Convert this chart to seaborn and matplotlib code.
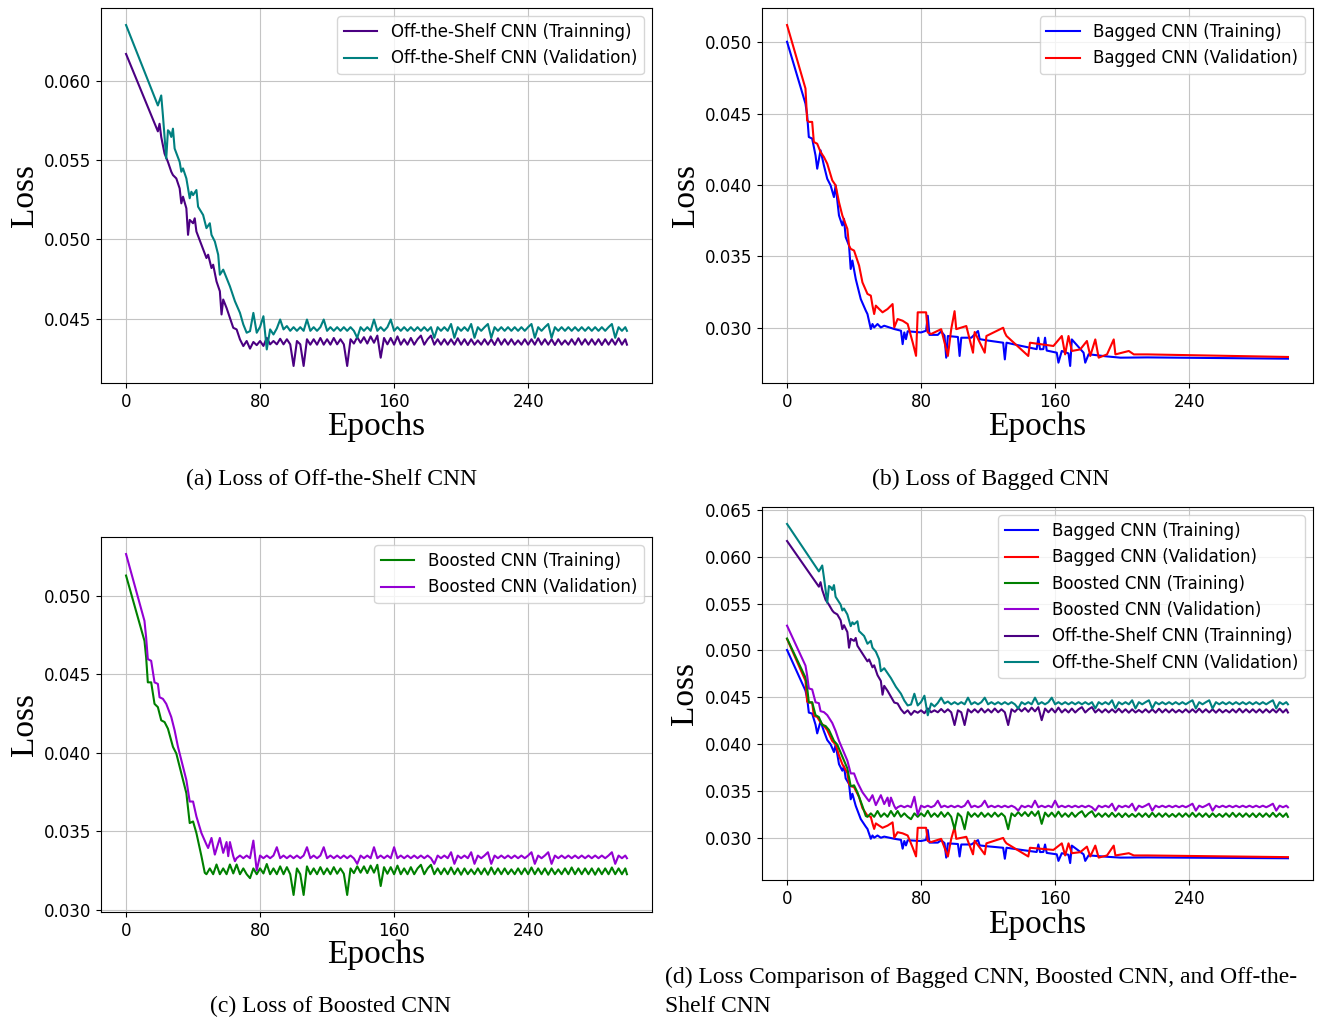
import matplotlib
matplotlib.use("Agg")
import matplotlib.pyplot as plt
import pandas as pd
import seaborn as sns
from matplotlib.ticker import MultipleLocator, FormatStrFormatter

# ---------------- data ----------------
# Off-the-Shelf CNN, training
off_train_epochs = [0, 19, 20, 21, 23, 25, 27, 28, 30, 32, 33, 34, 36, 37, 38, 40, 41, 42,
                    45, 48, 49, 51, 52, 54, 56, 57, 58, 60, 62, 64, 66, 68, 70] \
    + list(range(72, 299, 2)) + [299]
off_train_loss = [
    0.06167, 0.05680, 0.05728, 0.05645, 0.05540, 0.05488, 0.05426, 0.05405, 0.05384, 0.05321,
    0.05227, 0.05269, 0.05196, 0.05029, 0.05123, 0.05102, 0.05133, 0.05050, 0.04966, 0.04883,
    0.04904, 0.04820, 0.04841, 0.04736, 0.04674, 0.04528, 0.04622, 0.04569, 0.04507, 0.04444,
    0.04434, 0.04371, 0.04329,
    # plateau, every 2 epochs from 72
    0.04361, 0.04313, 0.04355, 0.04335, 0.04361, 0.04330, 0.04381, 0.04340, 0.04361, 0.04340,
    0.04375, 0.04340, 0.04372, 0.04340, 0.04204, 0.04361, 0.04340, 0.04204, 0.04372, 0.04338,
    0.04372, 0.04338, 0.04380, 0.04338, 0.04372, 0.04338, 0.04380, 0.04340, 0.04372, 0.04340,
    0.04204, 0.04372, 0.04345, 0.04385, 0.04350, 0.04385, 0.04345, 0.04390, 0.04350, 0.04395,
    0.04256, 0.04380, 0.04340, 0.04380, 0.04338, 0.04390, 0.04338, 0.04372, 0.04338, 0.04380,
    0.04338, 0.04372, 0.04395, 0.04338, 0.04372, 0.04395, 0.04338, 0.04372, 0.04338, 0.04372,
    0.04338, 0.04372, 0.04338, 0.04378, 0.04338, 0.04372, 0.04336, 0.04372, 0.04338, 0.04365,
    0.04338, 0.04372, 0.04338, 0.04372, 0.04336, 0.04378, 0.04338, 0.04372, 0.04338, 0.04372,
    0.04338, 0.04365, 0.04338, 0.04372, 0.04338, 0.04372, 0.04338, 0.04378, 0.04338, 0.04372,
    0.04338, 0.04372, 0.04336, 0.04372, 0.04338, 0.04365, 0.04338, 0.04372, 0.04338, 0.04378,
    0.04338, 0.04372, 0.04338, 0.04372, 0.04338, 0.04372, 0.04336, 0.04372, 0.04338, 0.04372,
    0.04338, 0.04378, 0.04338, 0.04372,
    0.04338,
]

# Off-the-Shelf CNN, validation
off_val_epochs = [0, 19, 21, 22, 24, 25, 26, 27, 28, 29, 32, 33, 34, 36, 38, 39, 40, 42, 43,
                  46, 48, 50, 51, 53, 55, 56, 58, 60, 62, 65, 68, 70, 72, 74, 76, 78] \
    + list(range(80, 299, 2)) + [299]
off_val_loss = [
    0.06349, 0.05843, 0.05906, 0.05781, 0.05509, 0.05687, 0.05676, 0.05645, 0.05697, 0.05572,
    0.05488, 0.05426, 0.05447, 0.05384, 0.05259, 0.05300, 0.05279, 0.05311, 0.05206, 0.05154,
    0.05071, 0.05102, 0.05029, 0.04987, 0.04904, 0.04778, 0.04810, 0.04757, 0.04705, 0.04611,
    0.04538, 0.04465, 0.04413, 0.04423, 0.04538, 0.04413,
    # plateau, every 2 epochs from 80
    0.04450, 0.04517, 0.04308, 0.04434, 0.04402, 0.04440, 0.04496, 0.04434, 0.04455, 0.04425,
    0.04448, 0.04425, 0.04448, 0.04425, 0.04496, 0.04425, 0.04448, 0.04425, 0.04448, 0.04496,
    0.04425, 0.04448, 0.04425, 0.04448, 0.04425, 0.04448, 0.04425, 0.04448, 0.04425, 0.04381,
    0.04448, 0.04425, 0.04448, 0.04425, 0.04496, 0.04425, 0.04448, 0.04425, 0.04448, 0.04496,
    0.04425, 0.04448, 0.04425, 0.04448, 0.04425, 0.04448, 0.04425, 0.04448, 0.04425, 0.04448,
    0.04425, 0.04448, 0.04381, 0.04448, 0.04425, 0.04448, 0.04425, 0.04468, 0.04381, 0.04448,
    0.04425, 0.04448, 0.04425, 0.04468, 0.04381, 0.04448, 0.04425, 0.04448, 0.04468, 0.04381,
    0.04448, 0.04425, 0.04448, 0.04425, 0.04448, 0.04425, 0.04448, 0.04425, 0.04448, 0.04425,
    0.04448, 0.04468, 0.04381, 0.04448, 0.04425, 0.04448, 0.04468, 0.04381, 0.04448, 0.04425,
    0.04448, 0.04425, 0.04448, 0.04425, 0.04448, 0.04425, 0.04448, 0.04425, 0.04448, 0.04425,
    0.04448, 0.04425, 0.04448, 0.04425, 0.04448, 0.04468, 0.04381, 0.04448, 0.04425, 0.04448,
    0.04425,
]

# Bagged CNN, training
bag_train_epochs = [0, 11, 12, 13, 15, 17, 18, 20, 22, 24, 26, 28, 29, 31, 33, 34, 35, 37, 38,
                    39, 41, 44, 47, 48, 50, 51, 52, 54, 56, 58, 64, 68, 69, 70, 71, 72, 80, 83,
                    84, 85, 90, 92, 94, 95, 96, 102, 103, 104, 110, 114, 115, 120, 129, 130, 131,
                    140, 149, 150, 151, 153, 154, 155, 161, 162, 164, 168, 169, 170, 177, 178,
                    180, 190, 199, 215, 299]
bag_train_loss = [
    0.05005, 0.04571, 0.04490, 0.04337, 0.04326, 0.04208, 0.04115, 0.04244, 0.04138, 0.04044,
    0.03998, 0.03916, 0.03998, 0.03787, 0.03717, 0.03763, 0.03635, 0.03576, 0.03412, 0.03471,
    0.03342, 0.03201, 0.03120, 0.03096, 0.02991, 0.03026, 0.03002, 0.03026, 0.03002, 0.03014,
    0.02991, 0.02979, 0.02885, 0.02967, 0.02920, 0.02975, 0.02967, 0.02979, 0.03084, 0.02950,
    0.02950, 0.02975, 0.02945, 0.02790, 0.02942, 0.02935, 0.02802, 0.02930, 0.02930, 0.02977,
    0.02920, 0.02910, 0.02895, 0.02778, 0.02895, 0.02872, 0.02850, 0.02930, 0.02849, 0.02850,
    0.02930, 0.02840, 0.02825, 0.02755, 0.02837, 0.02820, 0.02732, 0.02918, 0.02825, 0.02755,
    0.02814, 0.02800, 0.02790, 0.02792, 0.02783,
]

# Bagged CNN, validation
bag_val_epochs = [0, 11, 12, 13, 15, 16, 18, 20, 22, 24, 27, 29, 31, 33, 36, 37, 38, 40, 43,
                  45, 48, 50, 51, 52, 53, 55, 57, 60, 63, 64, 66, 69, 72, 75, 77, 78, 83, 84,
                  86, 92, 96, 98, 100, 101, 107, 111, 112, 118, 119, 129, 130, 131, 144, 145,
                  159, 164, 166, 168, 170, 175, 179, 181, 184, 186, 191, 195, 196, 204, 207,
                  215, 299]
bag_val_loss = [
    0.05122, 0.04677, 0.04454, 0.04443, 0.04443, 0.04302, 0.04290, 0.04232, 0.04197, 0.04150,
    0.04033, 0.03998, 0.03880, 0.03787, 0.03693, 0.03576, 0.03553, 0.03541, 0.03436, 0.03318,
    0.03237, 0.03225, 0.03155, 0.03096, 0.03155, 0.03131, 0.03108, 0.03131, 0.03166, 0.03002,
    0.03061, 0.03049, 0.03026, 0.02897, 0.02803, 0.03108, 0.03108, 0.02967, 0.02956, 0.02990,
    0.02802, 0.02990, 0.03116, 0.02990, 0.03012, 0.02825, 0.02970, 0.02825, 0.02942, 0.03000,
    0.02965, 0.02942, 0.02802, 0.02895, 0.02872, 0.02942, 0.02813, 0.02942, 0.02837, 0.02848,
    0.02907, 0.02802, 0.02918, 0.02790, 0.02813, 0.02918, 0.02813, 0.02837, 0.02813, 0.02813,
    0.02795,
]

# Boosted CNN, training
boost_train_epochs = [0, 11, 12, 13, 15, 17, 19, 21, 23, 25, 28, 30, 33, 36, 38, 40, 42, 45, 47] \
    + list(range(48, 299, 2)) + [299]
boost_train_loss = [
    0.05127, 0.04711, 0.04605, 0.04447, 0.04447, 0.04310, 0.04289, 0.04205, 0.04194, 0.04152,
    0.04036, 0.03994, 0.03867, 0.03741, 0.03551, 0.03561, 0.03487, 0.03340, 0.03234,
    # plateau, every 2 epochs from 48
    0.03225, 0.03262, 0.03225, 0.03287, 0.03225, 0.03262, 0.03225, 0.03287, 0.03230, 0.03287,
    0.03225, 0.03262, 0.03225, 0.03200, 0.03262, 0.03225, 0.03262, 0.03230, 0.03290, 0.03225,
    0.03262, 0.03225, 0.03275, 0.03225, 0.03270, 0.03225, 0.03093, 0.03262, 0.03225, 0.03093,
    0.03275, 0.03225, 0.03262, 0.03225, 0.03270, 0.03225, 0.03262, 0.03225, 0.03270, 0.03228,
    0.03262, 0.03228, 0.03093, 0.03262, 0.03232, 0.03275, 0.03235, 0.03275, 0.03232, 0.03280,
    0.03235, 0.03285, 0.03150, 0.03270, 0.03228, 0.03270, 0.03225, 0.03280, 0.03225, 0.03262,
    0.03225, 0.03270, 0.03225, 0.03262, 0.03285, 0.03225, 0.03262, 0.03285, 0.03225, 0.03262,
    0.03225, 0.03262, 0.03225, 0.03268, 0.03225, 0.03262, 0.03222, 0.03262, 0.03225, 0.03256,
    0.03225, 0.03262, 0.03225, 0.03262, 0.03222, 0.03268, 0.03225, 0.03262, 0.03225, 0.03262,
    0.03225, 0.03256, 0.03225, 0.03262, 0.03225, 0.03262, 0.03225, 0.03268, 0.03225, 0.03262,
    0.03225, 0.03262, 0.03222, 0.03262, 0.03225, 0.03256, 0.03225, 0.03262, 0.03225, 0.03268,
    0.03225, 0.03262, 0.03225, 0.03262, 0.03225, 0.03262, 0.03222, 0.03262, 0.03225, 0.03262,
    0.03225, 0.03268, 0.03225, 0.03262, 0.03225, 0.03262,
    0.03225,
]

# Boosted CNN, validation
boost_val_epochs = [0, 11, 12, 13, 15, 17, 19, 20, 22, 24, 27, 29, 31, 34, 36, 38, 40, 42, 45,
                    48, 49, 51, 53, 56, 58, 60, 61, 62, 64, 65] \
    + list(range(66, 299, 2)) + [299]
boost_val_loss = [
    0.05264, 0.04838, 0.04732, 0.04595, 0.04584, 0.04447, 0.04437, 0.04352, 0.04342, 0.04310,
    0.04226, 0.04141, 0.04036, 0.03909, 0.03825, 0.03688, 0.03688, 0.03593, 0.03487, 0.03414,
    0.03392, 0.03456, 0.03350, 0.03456, 0.03361, 0.03430, 0.03340, 0.03430, 0.03340, 0.03308,
    # plateau, every 2 epochs from 66
    0.03327, 0.03344, 0.03327, 0.03344, 0.03327, 0.03439, 0.03249, 0.03344, 0.03327, 0.03344,
    0.03327, 0.03344, 0.03397, 0.03327, 0.03344, 0.03327, 0.03344, 0.03327, 0.03344, 0.03327,
    0.03344, 0.03397, 0.03327, 0.03344, 0.03327, 0.03344, 0.03397, 0.03327, 0.03344, 0.03327,
    0.03344, 0.03327, 0.03344, 0.03327, 0.03344, 0.03326, 0.03291, 0.03344, 0.03327, 0.03344,
    0.03327, 0.03397, 0.03327, 0.03344, 0.03327, 0.03344, 0.03327, 0.03397, 0.03327, 0.03344,
    0.03327, 0.03344, 0.03327, 0.03344, 0.03327, 0.03344, 0.03327, 0.03344, 0.03327, 0.03291,
    0.03344, 0.03327, 0.03344, 0.03327, 0.03365, 0.03291, 0.03344, 0.03327, 0.03344, 0.03327,
    0.03365, 0.03291, 0.03344, 0.03327, 0.03344, 0.03365, 0.03291, 0.03344, 0.03327, 0.03344,
    0.03327, 0.03344, 0.03327, 0.03344, 0.03327, 0.03344, 0.03327, 0.03344, 0.03365, 0.03291,
    0.03344, 0.03327, 0.03344, 0.03365, 0.03291, 0.03344, 0.03327, 0.03344, 0.03327, 0.03344,
    0.03327, 0.03344, 0.03327, 0.03344, 0.03327, 0.03344, 0.03327, 0.03344, 0.03327, 0.03344,
    0.03327, 0.03344, 0.03365, 0.03291, 0.03344, 0.03327, 0.03344,
    0.03327,
]

x_ticks = [0, 80, 160, 240]

# (label, epochs, loss, colour)
bagged = [
    ("Bagged CNN (Training)", bag_train_epochs, bag_train_loss, "blue"),
    ("Bagged CNN (Validation)", bag_val_epochs, bag_val_loss, "red"),
]
boosted = [
    ("Boosted CNN (Training)", boost_train_epochs, boost_train_loss, "green"),
    ("Boosted CNN (Validation)", boost_val_epochs, boost_val_loss, "darkviolet"),
]
off_shelf = [
    ("Off-the-Shelf CNN (Trainning)", off_train_epochs, off_train_loss, "indigo"),
    ("Off-the-Shelf CNN (Validation)", off_val_epochs, off_val_loss, "teal"),
]

SERIF = ["Liberation Serif", "DejaVu Serif"]
plt.rcParams["font.family"] = ["DejaVu Sans"]


def draw(ax, series, xlab_y, ylab_x):
    for label, ep, loss, color in series:
        df = pd.DataFrame({"epoch": ep, "loss": loss})
        sns.lineplot(data=df, x="epoch", y="loss", ax=ax, color=color,
                     label=label, linewidth=1.5, estimator=None)
    ax.xaxis.set_major_locator(MultipleLocator(80))
    ax.set_xticks(x_ticks)
    ax.yaxis.set_major_locator(MultipleLocator(0.005))
    ax.yaxis.set_major_formatter(FormatStrFormatter("%.3f"))
    ax.tick_params(labelsize=12)
    ax.grid(True, color="#c4c4c4", linewidth=0.8)
    ax.set_xlabel("Epochs", family=SERIF, fontsize=24, va="center")
    ax.set_ylabel("Loss", family=SERIF, fontsize=24, va="center")
    ax.xaxis.set_label_coords(0.5, xlab_y)
    ax.yaxis.set_label_coords(ylab_x, 0.5)
    ax.legend(loc="upper right", fontsize=12)


W, H = 1325, 1019
fig = plt.figure(figsize=(W / 100, H / 100), dpi=100)


def box(left, top, right, bottom):
    return [left / W, 1 - bottom / H, (right - left) / W, (bottom - top) / H]


ax_a = fig.add_axes(box(101, 8, 652, 383))
ax_b = fig.add_axes(box(762, 8, 1313, 383))
ax_c = fig.add_axes(box(101, 537, 652, 912))
ax_d = fig.add_axes(box(762, 507, 1313, 880))

draw(ax_a, off_shelf, -0.117, -0.138)
draw(ax_b, bagged, -0.117, -0.138)
draw(ax_c, boosted, -0.115, -0.138)
draw(ax_d, bagged + boosted + off_shelf, -0.121, -0.140)

cap = dict(family=SERIF, fontsize=17)
fig.text(331 / W, 1 - 479 / H, "(a) Loss of Off-the-Shelf CNN", ha="center", va="center", **cap)
fig.text(991 / W, 1 - 479 / H, "(b) Loss of Bagged CNN", ha="center", va="center", **cap)
fig.text(331 / W, 1 - 1006 / H, "(c) Loss of Boosted CNN", ha="center", va="center", **cap)
fig.text(665 / W, 1 - 977 / H,
         "(d) Loss Comparison of Bagged CNN, Boosted CNN, and Off-the-", ha="left", va="center", **cap)
fig.text(665 / W, 1 - 1006 / H, "Shelf CNN", ha="left", va="center", **cap)

fig.savefig("out.png", dpi=100, facecolor="white")
